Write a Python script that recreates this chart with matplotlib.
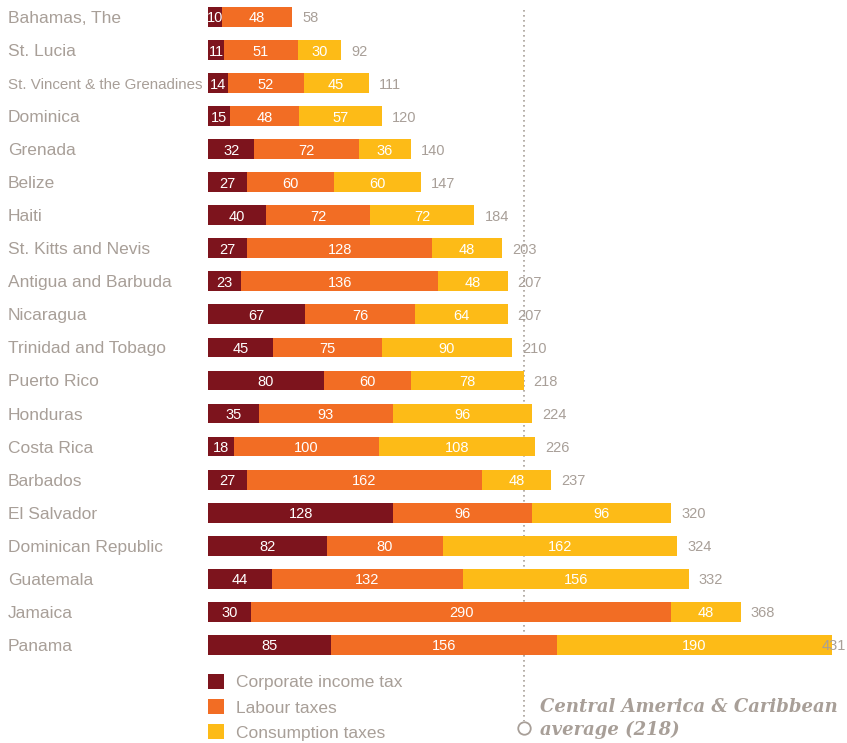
import numpy as np
import matplotlib.pyplot as plt
import matplotlib.transforms as mtransforms
from matplotlib.patches import Patch

countries = ["Bahamas, The", "St. Lucia", "St. Vincent & the Grenadines", "Dominica",
             "Grenada", "Belize", "Haiti", "St. Kitts and Nevis", "Antigua and Barbuda",
             "Nicaragua", "Trinidad and Tobago", "Puerto Rico", "Honduras", "Costa Rica",
             "Barbados", "El Salvador", "Dominican Republic", "Guatemala", "Jamaica", "Panama"]
corporate = [10, 11, 14, 15, 32, 27, 40, 27, 23, 67, 45, 80, 35, 18, 27, 128, 82, 44, 30, 85]
labour = [48, 51, 52, 48, 72, 60, 72, 128, 136, 76, 75, 60, 93, 100, 162, 96, 80, 132, 290, 156]
consumption = [0, 30, 45, 57, 36, 60, 72, 48, 48, 64, 90, 78, 96, 108, 48, 96, 162, 156, 48, 190]
totals = [58, 92, 111, 120, 140, 147, 184, 203, 207, 207, 210, 218, 224, 226, 237, 320, 324, 332, 368, 431]
series_names = ["Corporate income tax", "Labour taxes", "Consumption taxes"]
average = 218

colors = ["#7d141d", "#f26d24", "#fdbb17"]
grey = "#a89f98"
plt.rcParams['font.family'] = ['Liberation Sans', 'DejaVu Sans']

W, H = 847, 743
fig = plt.figure(figsize=(W / 100, H / 100), dpi=100)
# axes spans px 208..832 horizontally, full height; rows every ~33 px
ax = fig.add_axes([208 / W, 0, 624 / W, 1])
ax.set_xlim(0, 431)
ax.set_ylim(21.97, -0.514)
ax.axis('off')
renderer = fig.canvas.get_renderer()

y = np.arange(len(countries))
left = np.zeros(len(countries))
for vals, c in zip([corporate, labour, consumption], colors):
    vals = np.array(vals, dtype=float)
    ax.barh(y, vals, left=left, height=0.6, color=c, zorder=2)
    for yi, l, v in zip(y, left, vals):
        if v > 0:
            ax.text(l + v / 2, yi, str(int(v)), ha='center', va='center_baseline',
                    color='white', fontsize=10.5, zorder=3)
    left += vals

# totals: ~10px right of the bar, but kept inside the figure
for yi, t in zip(y, totals):
    txt = ax.text(t, yi, str(t), ha='left', va='center_baseline', color=grey,
                  fontsize=10.5, zorder=4)
    w = txt.get_window_extent(renderer).width
    px = min(ax.transData.transform((t, 0))[0] + 10, W - w - 1)
    txt.set_position((ax.transData.inverted().transform((px, 0))[0], yi))

lab_tr = mtransforms.blended_transform_factory(fig.transFigure, ax.transData)
for yi, name in zip(y, countries):
    txt = ax.text(8 / W, yi, name, transform=lab_tr, ha='left', va='center_baseline',
                  color=grey, fontsize=12.5)
    w = txt.get_window_extent(renderer).width
    if w > 195:
        txt.set_fontsize(12.5 * 195 / w)

# average line
circle_y = 21.51
ax.plot([average, average], [-0.22, circle_y - 0.2], color=grey, lw=1.2,
        linestyle=(0, (1, 2)), zorder=0)
ax.plot([average], [circle_y], marker='o', markersize=9, markerfacecolor='white',
        markeredgecolor=grey, markeredgewidth=1.3, clip_on=False, zorder=4)
ax.annotate("Central America & Caribbean\naverage (218)", xy=(average, circle_y),
            xytext=(12, -8), textcoords='offset points', ha='left', va='bottom',
            color=grey, fontsize=13, fontweight='bold', fontstyle='italic',
            family='DejaVu Serif', linespacing=1.3)

handles = [Patch(facecolor=c, edgecolor='none') for c in colors]
ax.legend(handles, series_names, loc='upper left', bbox_to_anchor=(208 / W, 1 - 674 / H),
          bbox_transform=fig.transFigure, frameon=False, fontsize=12.5,
          borderpad=0, borderaxespad=0,
          handlelength=0.95, handleheight=0.95, handletextpad=0.65, labelspacing=0.5,
          labelcolor=grey)

plt.savefig('out.png', dpi=100)
